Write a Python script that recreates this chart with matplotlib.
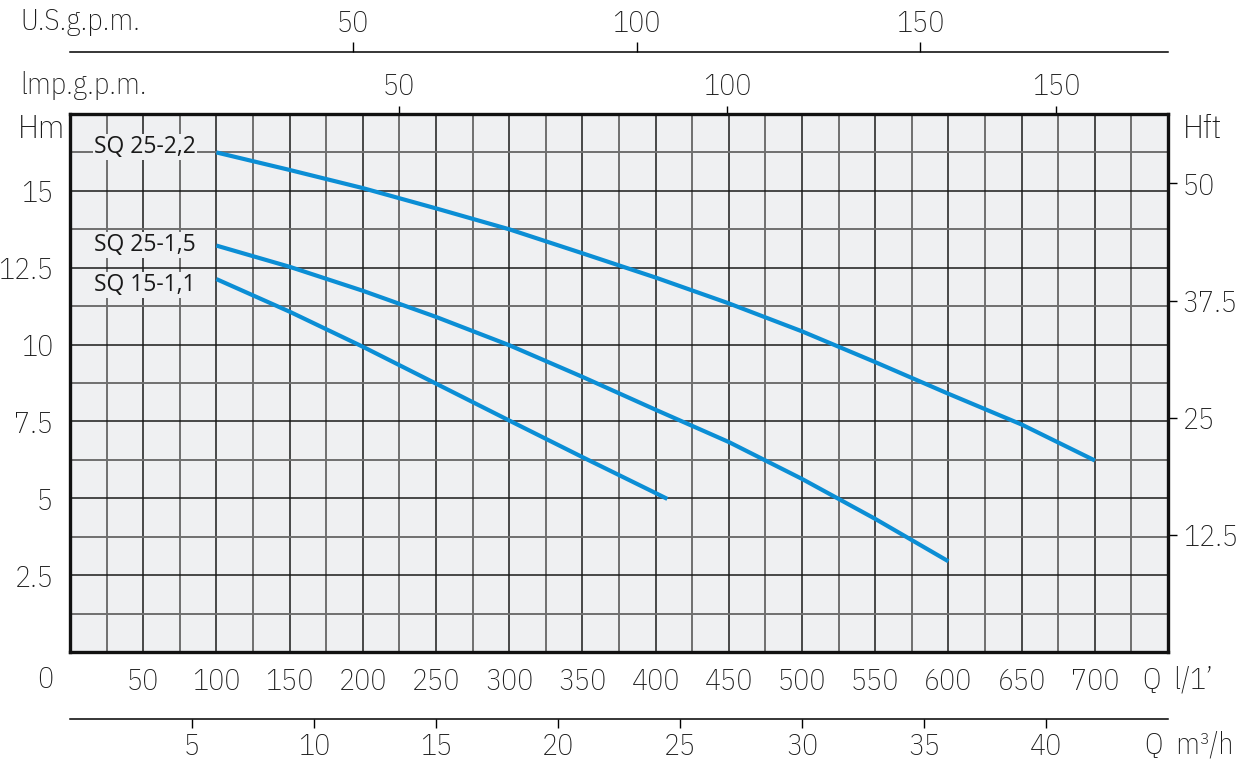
import matplotlib.pyplot as plt
import numpy as np

# pump curves, Q in l/min, H in m
q_sq22 = [100, 150, 200, 250, 300, 350, 400, 450, 500, 550, 600, 650, 700]
h_sq22 = [16.25, 15.68, 15.09, 14.43, 13.75, 12.97, 12.18, 11.34, 10.43, 9.43, 8.40, 7.40, 6.23]

q_sq15 = [100, 150, 200, 250, 300, 350, 400, 450, 500, 550, 600]
h_sq15 = [13.22, 12.53, 11.75, 10.90, 9.98, 8.95, 7.88, 6.83, 5.63, 4.33, 2.95]

q_sq11 = [100, 150, 200, 250, 300, 350, 400, 408]
h_sq11 = [12.13, 11.07, 9.93, 8.73, 7.53, 6.34, 5.17, 4.98]

curve_names = ["SQ 25-2,2", "SQ 25-1,5", "SQ 15-1,1"]
name_pos = [(86, 16.42), (86, 13.24), (86, 11.93)]

lpm_ticks = list(range(50, 701, 50))
hm_ticks = [2.5, 5, 7.5, 10, 12.5, 15]
hm_labels = ["2.5", "5", "7.5", "10", "12.5", "15"]
hft_ticks = [12.5, 25, 37.5, 50]
hft_labels = ["12.5", "25", "37.5", "50"]
m3h_ticks = [5, 10, 15, 20, 25, 30, 35, 40]
imp_ticks = [50, 100, 150]
us_ticks = [50, 100, 150]

FONT = ['IBM Plex Sans Condensed', 'DejaVu Sans']
plt.rcParams['font.family'] = FONT
plt.rcParams['font.weight'] = 'light'
bg = '#eff0f2'
blue = '#0b8ed5'
fs = 21.5
tc = '#1a1a1a'

fig = plt.figure(figsize=(12.49, 7.73), dpi=100)
ax = fig.add_axes([70/1249, 1-652/773, 1098/1249, 538/773])
ax.set_facecolor(bg)
ax.set_xlim(0, 750)
ax.set_ylim(0, 17.5)

ax.set_xticks(lpm_ticks)
ax.set_xticklabels([str(v) for v in lpm_ticks])
ax.set_xticks(np.arange(25, 750, 50), minor=True)
ax.set_yticks(hm_ticks)
ax.set_yticklabels(hm_labels)
ax.set_yticks(np.arange(1.25, 17.5, 2.5), minor=True)
ax.tick_params(which='both', length=0, labelcolor=tc)
ax.tick_params(axis='x', labelsize=fs, pad=11)
ax.tick_params(axis='y', labelsize=fs, pad=12)
ax.grid(which='major', color='#1a1a1a', lw=1.1)
ax.grid(which='minor', color='#6f6f6f', lw=1.4)
ax.set_axisbelow(True)
for s in ax.spines.values():
    s.set_linewidth(2.4)
    s.set_color('#111111')
    s.set_zorder(5)

for q, h in [(q_sq22, h_sq22), (q_sq15, h_sq15), (q_sq11, h_sq11)]:
    ax.plot(q, h, color=blue, lw=3, solid_capstyle='butt', zorder=3)

for name, (x, y) in zip(curve_names, name_pos):
    ax.text(x, y, name, ha='right', va='center', fontsize=16.5, family=['Open Sans', 'DejaVu Sans'],
            fontweight='normal', color=tc, zorder=4,
            bbox=dict(boxstyle='square,pad=0.05', fc=bg, ec='none'))

# right axis in feet
ry = ax.secondary_yaxis('right', functions=(lambda m: m*3.2808, lambda f: f/3.2808))
ry.set_yticks(hft_ticks)
ry.set_yticklabels(hft_labels)
ry.tick_params(length=6.5, width=1, direction='out', labelsize=fs, pad=4, labelcolor=tc)
ry.spines['right'].set_visible(False)

# bottom m3/h
bx = ax.secondary_xaxis(-0.1245, functions=(lambda l: l*0.06, lambda m: m/0.06))
bx.set_xticks(m3h_ticks)
bx.set_xticklabels([str(v) for v in m3h_ticks])
bx.tick_params(length=6.5, width=1, direction='out', labelsize=fs, pad=3, labelcolor=tc)
bx.spines['bottom'].set_linewidth(1.1)

# top Imp gpm
ix = ax.secondary_xaxis('top', functions=(lambda l: l/4.49, lambda g: g*4.49))
ix.set_xticks(imp_ticks)
ix.set_xticklabels([str(v) for v in imp_ticks])
ix.tick_params(length=6, width=1, direction='out', labelsize=fs, pad=3, labelcolor=tc)
ix.spines['top'].set_visible(False)

# top US gpm
ux = ax.secondary_xaxis(1.1152, functions=(lambda l: l/3.87, lambda g: g*3.87))
ux.set_xticks(us_ticks)
ux.set_xticklabels([str(v) for v in us_ticks])
ux.tick_params(length=7, width=1, direction='out', labelsize=fs, pad=3, labelcolor=tc)
ux.spines['top'].set_linewidth(1.1)

fig.text(20/1249, 1-22/773, "U.S.g.p.m.", fontsize=fs, va='center', ha='left', color=tc)
fig.text(20/1249, 1-85/773, "lmp.g.p.m.", fontsize=fs, va='center', ha='left', color=tc)
fig.text(18/1249, 1-130/773, "Hm", fontsize=24, va='center', ha='left', color=tc)
fig.text(1183/1249, 1-130/773, "Hft", fontsize=24, va='center', ha='left', color=tc)
fig.text(45/1249, 1-680/773, "0", fontsize=fs, va='center', ha='center', color=tc)
fig.text(1143/1249, 1-680/773, "Q  l/1\u2019", fontsize=fs, va='center', ha='left', color=tc)
fig.text(1145/1249, 1-745/773, "Q  m\u00b3/h", fontsize=fs, va='center', ha='left', color=tc)

fig.savefig("out.png", dpi=100)
